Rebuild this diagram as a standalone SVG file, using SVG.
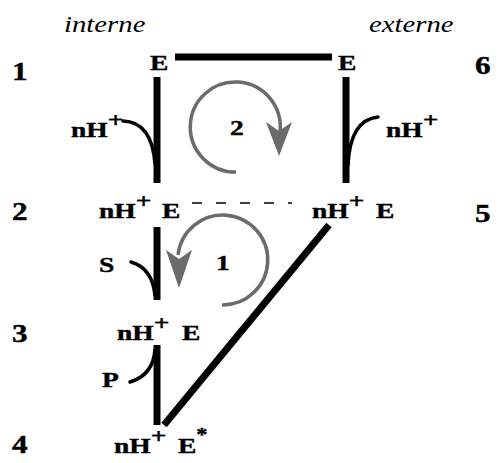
<svg xmlns="http://www.w3.org/2000/svg" width="503" height="463" viewBox="0 0 503 463">
<style>
.b{font-family:"Liberation Serif","Times New Roman",serif;font-weight:bold;font-size:22px;fill:#000;stroke:#000;stroke-width:0.4}
.n{font-family:"Liberation Serif","Times New Roman",serif;font-weight:bold;font-size:25px;fill:#000;stroke:#000;stroke-width:0.4}
.i{font-family:"Liberation Serif","Times New Roman",serif;font-style:italic;font-size:23px;fill:#000}
.bar{stroke:#000;stroke-width:7;fill:none}
.hook{stroke:#000;stroke-width:3.5;fill:none;stroke-linecap:round}
.cyc{stroke:#6b6b6b;stroke-width:3.5;fill:none}
.head{fill:#6b6b6b}
</style>
<rect width="503" height="463" fill="#fff"/>
<g id="headers">
<text class="i" transform="translate(64,32) scale(1.25,1)">interne</text>
<text class="i" transform="translate(369,32) scale(1.25,1)">externe</text>
</g>
<g id="row-numbers">
<text class="n" transform="translate(12,80) scale(1.25,1)">1</text>
<text class="n" transform="translate(12,220) scale(1.25,1)">2</text>
<text class="n" transform="translate(12,342) scale(1.25,1)">3</text>
<text class="n" transform="translate(12,453) scale(1.25,1)">4</text>
<text class="n" transform="translate(475,74) scale(1.25,1)">6</text>
<text class="n" transform="translate(475,222) scale(1.25,1)">5</text>
</g>
<g id="state1-internal"><text class="b" transform="translate(150,70) scale(1.25,1)">E</text></g>
<g id="state1-external"><text class="b" transform="translate(338,70) scale(1.25,1)">E</text></g>
<g id="proton-in"><text class="b" transform="translate(71,137) scale(1.25,1)">nH<tspan dy="-10">+</tspan></text></g>
<g id="proton-out"><text class="b" transform="translate(386,137) scale(1.25,1)">nH<tspan dy="-10">+</tspan></text></g>
<g id="state2-internal">
<text class="b" transform="translate(99,218) scale(1.25,1)">nH<tspan dy="-10">+</tspan></text>
<text class="b" transform="translate(162,218) scale(1.25,1)">E</text>
</g>
<g id="state2-external">
<text class="b" transform="translate(312,218) scale(1.25,1)">nH<tspan dy="-10">+</tspan></text>
<text class="b" transform="translate(376,218) scale(1.25,1)">E</text>
</g>
<g id="substrate"><text class="b" transform="translate(99,272) scale(1.25,1)">S</text></g>
<g id="state3">
<text class="b" transform="translate(117,340) scale(1.25,1)">nH<tspan dy="-10">+</tspan></text>
<text class="b" transform="translate(182,340) scale(1.25,1)">E</text>
</g>
<g id="product"><text class="b" transform="translate(102,387) scale(1.25,1)">P</text></g>
<g id="state4">
<text class="b" transform="translate(114,453) scale(1.25,1)">nH<tspan dy="-10">+</tspan></text>
<text class="b" transform="translate(178,453) scale(1.25,1)">E<tspan dy="-12" font-size="18">*</tspan></text>
</g>
<g id="cycle-labels">
<text class="b" transform="translate(230,135) scale(1.25,1)">2</text>
<text class="b" transform="translate(216,270) scale(1.25,1)">1</text>
</g>
<g id="connectors">
<line class="bar" x1="175" y1="57" x2="332" y2="57"/>
<line class="bar" x1="157" y1="77" x2="157" y2="183"/>
<line class="bar" x1="346" y1="77" x2="346" y2="183"/>
<line class="bar" x1="157" y1="227" x2="157" y2="300"/>
<line class="bar" x1="157" y1="345" x2="157" y2="425"/>
<line class="bar" x1="329" y1="225" x2="164" y2="425"/>
<line x1="192" y1="203" x2="292" y2="203" stroke="#000" stroke-width="1.5" stroke-dasharray="10 14"/>
<path class="hook" d="M123 121 Q152 122 155 164"/>
<path class="hook" d="M378 117 Q350 120 348 165"/>
<path class="hook" d="M131 262 Q152 268 155 295"/>
<path class="hook" d="M130 382 Q153 375 155 350"/>
<path class="cyc" d="M236 172 A45 45 0 1 1 280 132"/>
<polygon class="head" points="266,122 279,131 292,122 279,156"/>
<path class="cyc" d="M222 305 A45 45 0 1 0 178 255"/>
<polygon class="head" points="166,250 179,259 192,250 179,288"/>
</g>
</svg>
